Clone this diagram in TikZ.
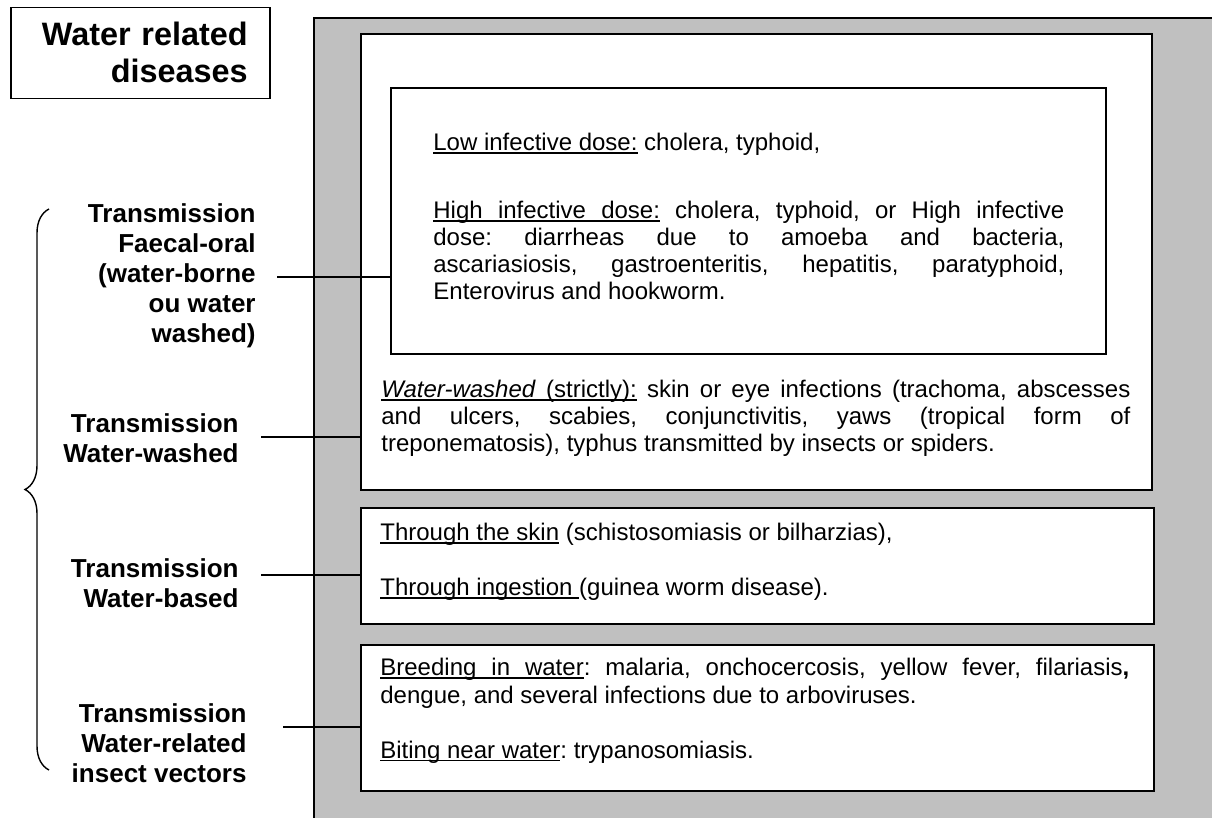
\documentclass[tikz,border=0pt]{standalone}
\usepackage{fontspec}
\setmainfont{Liberation Sans}
\usepackage{tikz}
\usetikzlibrary{decorations.pathreplacing}
\definecolor{panelgray}{RGB}{192,192,192}
\frenchspacing
% underlined words, and an underlined space that stretches
\newsavebox{\ulbox}
\newcommand{\uln}[1]{\sbox{\ulbox}{#1}\rlap{\rule[-1.6pt]{\wd\ulbox}{0.7pt}}\usebox{\ulbox}}
\newcommand{\ulsp}{\leaders\vrule height -0.9pt depth 1.6pt\hskip\fontdimen2\font plus\fontdimen3\font minus\fontdimen4\font\relax}
% justified lines (wide box, inner box)
\newcommand{\jfull}[1]{\makebox[374.5pt][s]{#1}}
\newcommand{\jinner}[1]{\makebox[315.5pt][s]{#1}}

\begin{document}
\begin{tikzpicture}[x=0.5pt,y=-0.5pt,
  wbox/.style={draw,fill=white,line width=0.85pt,inner sep=0pt,anchor=north west},
  txt/.style={anchor=north west,inner sep=0pt,align=left,font=\fontsize{12}{13.8}\selectfont},
  lbl/.style={anchor=north east,inner sep=0pt,align=right,font=\fontsize{13}{15}\selectfont\bfseries},
  link/.style={line width=0.65pt}]
  \useasboundingbox (0,0) rectangle (1212,818);
  % 1. grey panel, open to the right and below
  \fill[panelgray] (314,18) rectangle (1212,818);
  \draw[line width=0.85pt] (314,818) -- (314,18) -- (1212,18);
  % 2. title
  \node (title) [draw,line width=0.75pt,anchor=north west,minimum width=129.5pt,
    minimum height=45.5pt,text width=107.5pt,inner xsep=11pt,inner ysep=5pt,align=right,
    font=\fontsize{16.2}{18.5}\selectfont\bfseries] at (10,7)
    {\rule{0pt}{14pt}Water related\\diseases\rule[-3pt]{0pt}{3pt}};
  % 3. the boxes
  \node (outer) [wbox,minimum width=395.5pt,minimum height=228pt] at (360,33) {};
  \node (inner) [wbox,minimum width=357.5pt,minimum height=133pt] at (390,87) {};
  \node (based) [wbox,minimum width=396.5pt,minimum height=58pt] at (360,507) {};
  \node (insect) [wbox,minimum width=396.5pt,minimum height=73pt] at (360,644) {};
  % box texts
  \node (fo-t) [txt,font=\fontsize{12}{13.4}\selectfont] at (433,130) {\rule{0pt}{10pt}\uln{Low infective dose:} cholera, typhoid,\\[20.75pt]
    \jinner{\uln{High}\ulsp\uln{infective}\ulsp\uln{dose:} cholera, typhoid, or High infective}\\
    \jinner{dose: diarrheas due to amoeba and bacteria,}\\
    \jinner{ascariasiosis, gastroenteritis, hepatitis, paratyphoid,}\\
    Enterovirus and hookworm.};
  \node (ww-t) [txt,font=\fontsize{12}{13.6}\selectfont] at (381,377) {\rule{0pt}{10pt}\jfull{\uln{\textit{Water-washed}}\ulsp\uln{(strictly):} skin or eye infections (trachoma, abscesses}\\
    \jfull{and ulcers, scabies, conjunctivitis, yaws (tropical form of}\\
    treponematosis), typhus transmitted by insects or spiders.};
  \node (wb-t) [txt] at (380,520) {\rule{0pt}{10pt}\uln{Through the skin} (schistosomiasis or bilharzias),\\[13.8pt]
    \uln{Through ingestion\ }(guinea worm disease).};
  \node (iv-t) [txt] at (380,655) {\rule{0pt}{10pt}\jfull{\uln{Breeding}\ulsp\uln{in}\ulsp\uln{water}: malaria, onchocercosis, yellow fever, filariasis\textbf{,}}\\
    dengue, and several infections due to arboviruses.\\[13.8pt]
    \uln{Biting near water}: trypanosomiasis.};
  % 4. transmission labels
  \node (fo) [lbl] at (256,200) {\rule{0pt}{11pt}Transmission\\Faecal-oral\\(water-borne\\ou water\\washed)};
  \node (ww) [lbl] at (239,410) {\rule{0pt}{11pt}Transmission\\Water-washed};
  \node (wb) [lbl] at (239,555) {\rule{0pt}{11pt}Transmission\\Water-based};
  \node (iv) [lbl] at (247,700) {\rule{0pt}{11pt}Transmission\\Water-related\\insect vectors};
  % connectors
  \coordinate (fo-l) at (277,277);
  \coordinate (ww-l) at (261,437);
  \coordinate (wb-l) at (261,575);
  \coordinate (iv-l) at (283,727);
  \draw[link] (fo-l) -- (fo-l -| inner.west);
  \draw[link] (ww-l) -- (ww-l -| outer.west);
  \draw[link] (wb-l) -- (wb-l -| based.west);
  \draw[link] (iv-l) -- (iv-l -| insect.west);
  % 5. the brace
  \coordinate (br-top) at (49,209);
  \coordinate (br-bot) at (49,770);
  \draw[line width=0.7pt,decorate,decoration={brace,amplitude=12pt}] (br-bot) -- (br-top);
\end{tikzpicture}
\end{document}
